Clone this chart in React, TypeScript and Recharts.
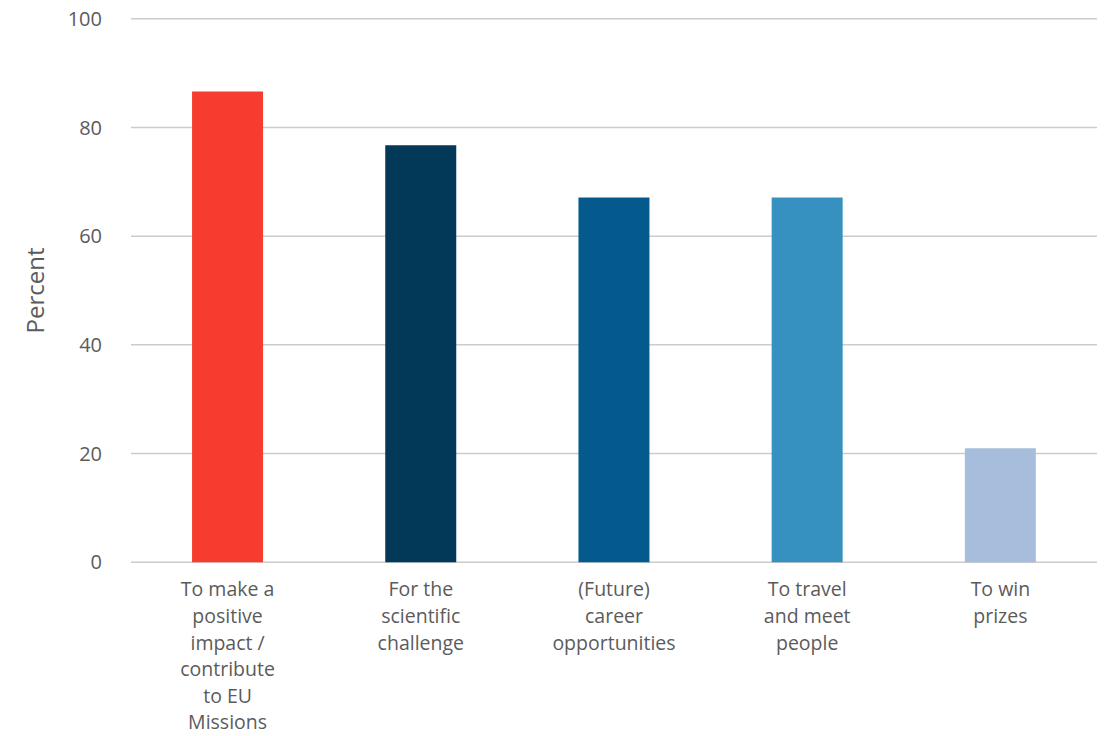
import React from 'react';
import { BarChart, Bar, XAxis, YAxis, CartesianGrid, Cell, Label } from 'recharts';

const categories = [
  'To make a positive impact / contribute to EU Missions',
  'For the scientific challenge',
  '(Future) career opportunities',
  'To travel and meet people',
  'To win prizes',
];
const categoryLines: string[][] = [
  ['To make a', 'positive', 'impact /', 'contribute', 'to EU', 'Missions'],
  ['For the', 'scientific', 'challenge'],
  ['(Future)', 'career', 'opportunities'],
  ['To travel', 'and meet', 'people'],
  ['To win', 'prizes'],
];
const percentValues = [86.6, 76.7, 67.1, 67.1, 21.0];
const barColors = ['#f63c2f', '#023858', '#045a8d', '#3690c0', '#a6bddb'];
const yTicks = [0, 20, 40, 60, 80, 100];

const data = categories.map((c, i) => ({ category: c, value: percentValues[i], idx: i }));

const FONT = '"Open Sans", sans-serif';
const TEXT = '#5b5b5b';

const CategoryTick = (props: any) => {
  const { x, y, index } = props;
  const lines = categoryLines[index] || [];
  return (
    <g>
      {lines.map((l, i) => (
        <text
          key={i}
          x={x}
          y={y + 34 + i * 26.6}
          textAnchor="middle"
          fill={TEXT}
          fontSize={19.5}
          fontFamily={FONT}
        >
          {l}
        </text>
      ))}
    </g>
  );
};

const YLabel = (props: any) => {
  const { viewBox } = props;
  const cx = viewBox.x + 3;
  const cy = viewBox.y + viewBox.height / 2;
  return (
    <text
      x={cx}
      y={cy}
      transform={`rotate(-90, ${cx}, ${cy})`}
      textAnchor="middle"
      dominantBaseline="central"
      fill={TEXT}
      fontSize={24}
      fontFamily={FONT}
    >
      Percent
    </text>
  );
};

export default function App() {
  return (
    <div style={{ position: 'absolute', left: 0, top: 0, width: 1107, height: 736, background: '#fff' }}>
      <BarChart
        width={1107}
        height={736}
        data={data}
        margin={{ top: 18.7, right: 10, bottom: 3.7, left: 31 }}
        barCategoryGap="31.6%"
      >
        <CartesianGrid vertical={false} stroke="#cccccc" strokeWidth={1.5} />
        <XAxis
          dataKey="category"
          axisLine={false}
          tickLine={false}
          tickSize={0}
          tickMargin={0}
          height={170}
          interval={0}
          tick={<CategoryTick />}
        />
        <YAxis
          domain={[0, 100]}
          ticks={yTicks}
          width={100}
          axisLine={false}
          tickLine={false}
          tickSize={0}
          tickMargin={29}
          tick={{ fill: TEXT, fontSize: 20, fontFamily: FONT }}
        >
          <Label content={<YLabel />} />
        </YAxis>
        <Bar dataKey="value" isAnimationActive={false}>
          {data.map((d, i) => (
            <Cell key={i} fill={barColors[i]} />
          ))}
        </Bar>
      </BarChart>
    </div>
  );
}
